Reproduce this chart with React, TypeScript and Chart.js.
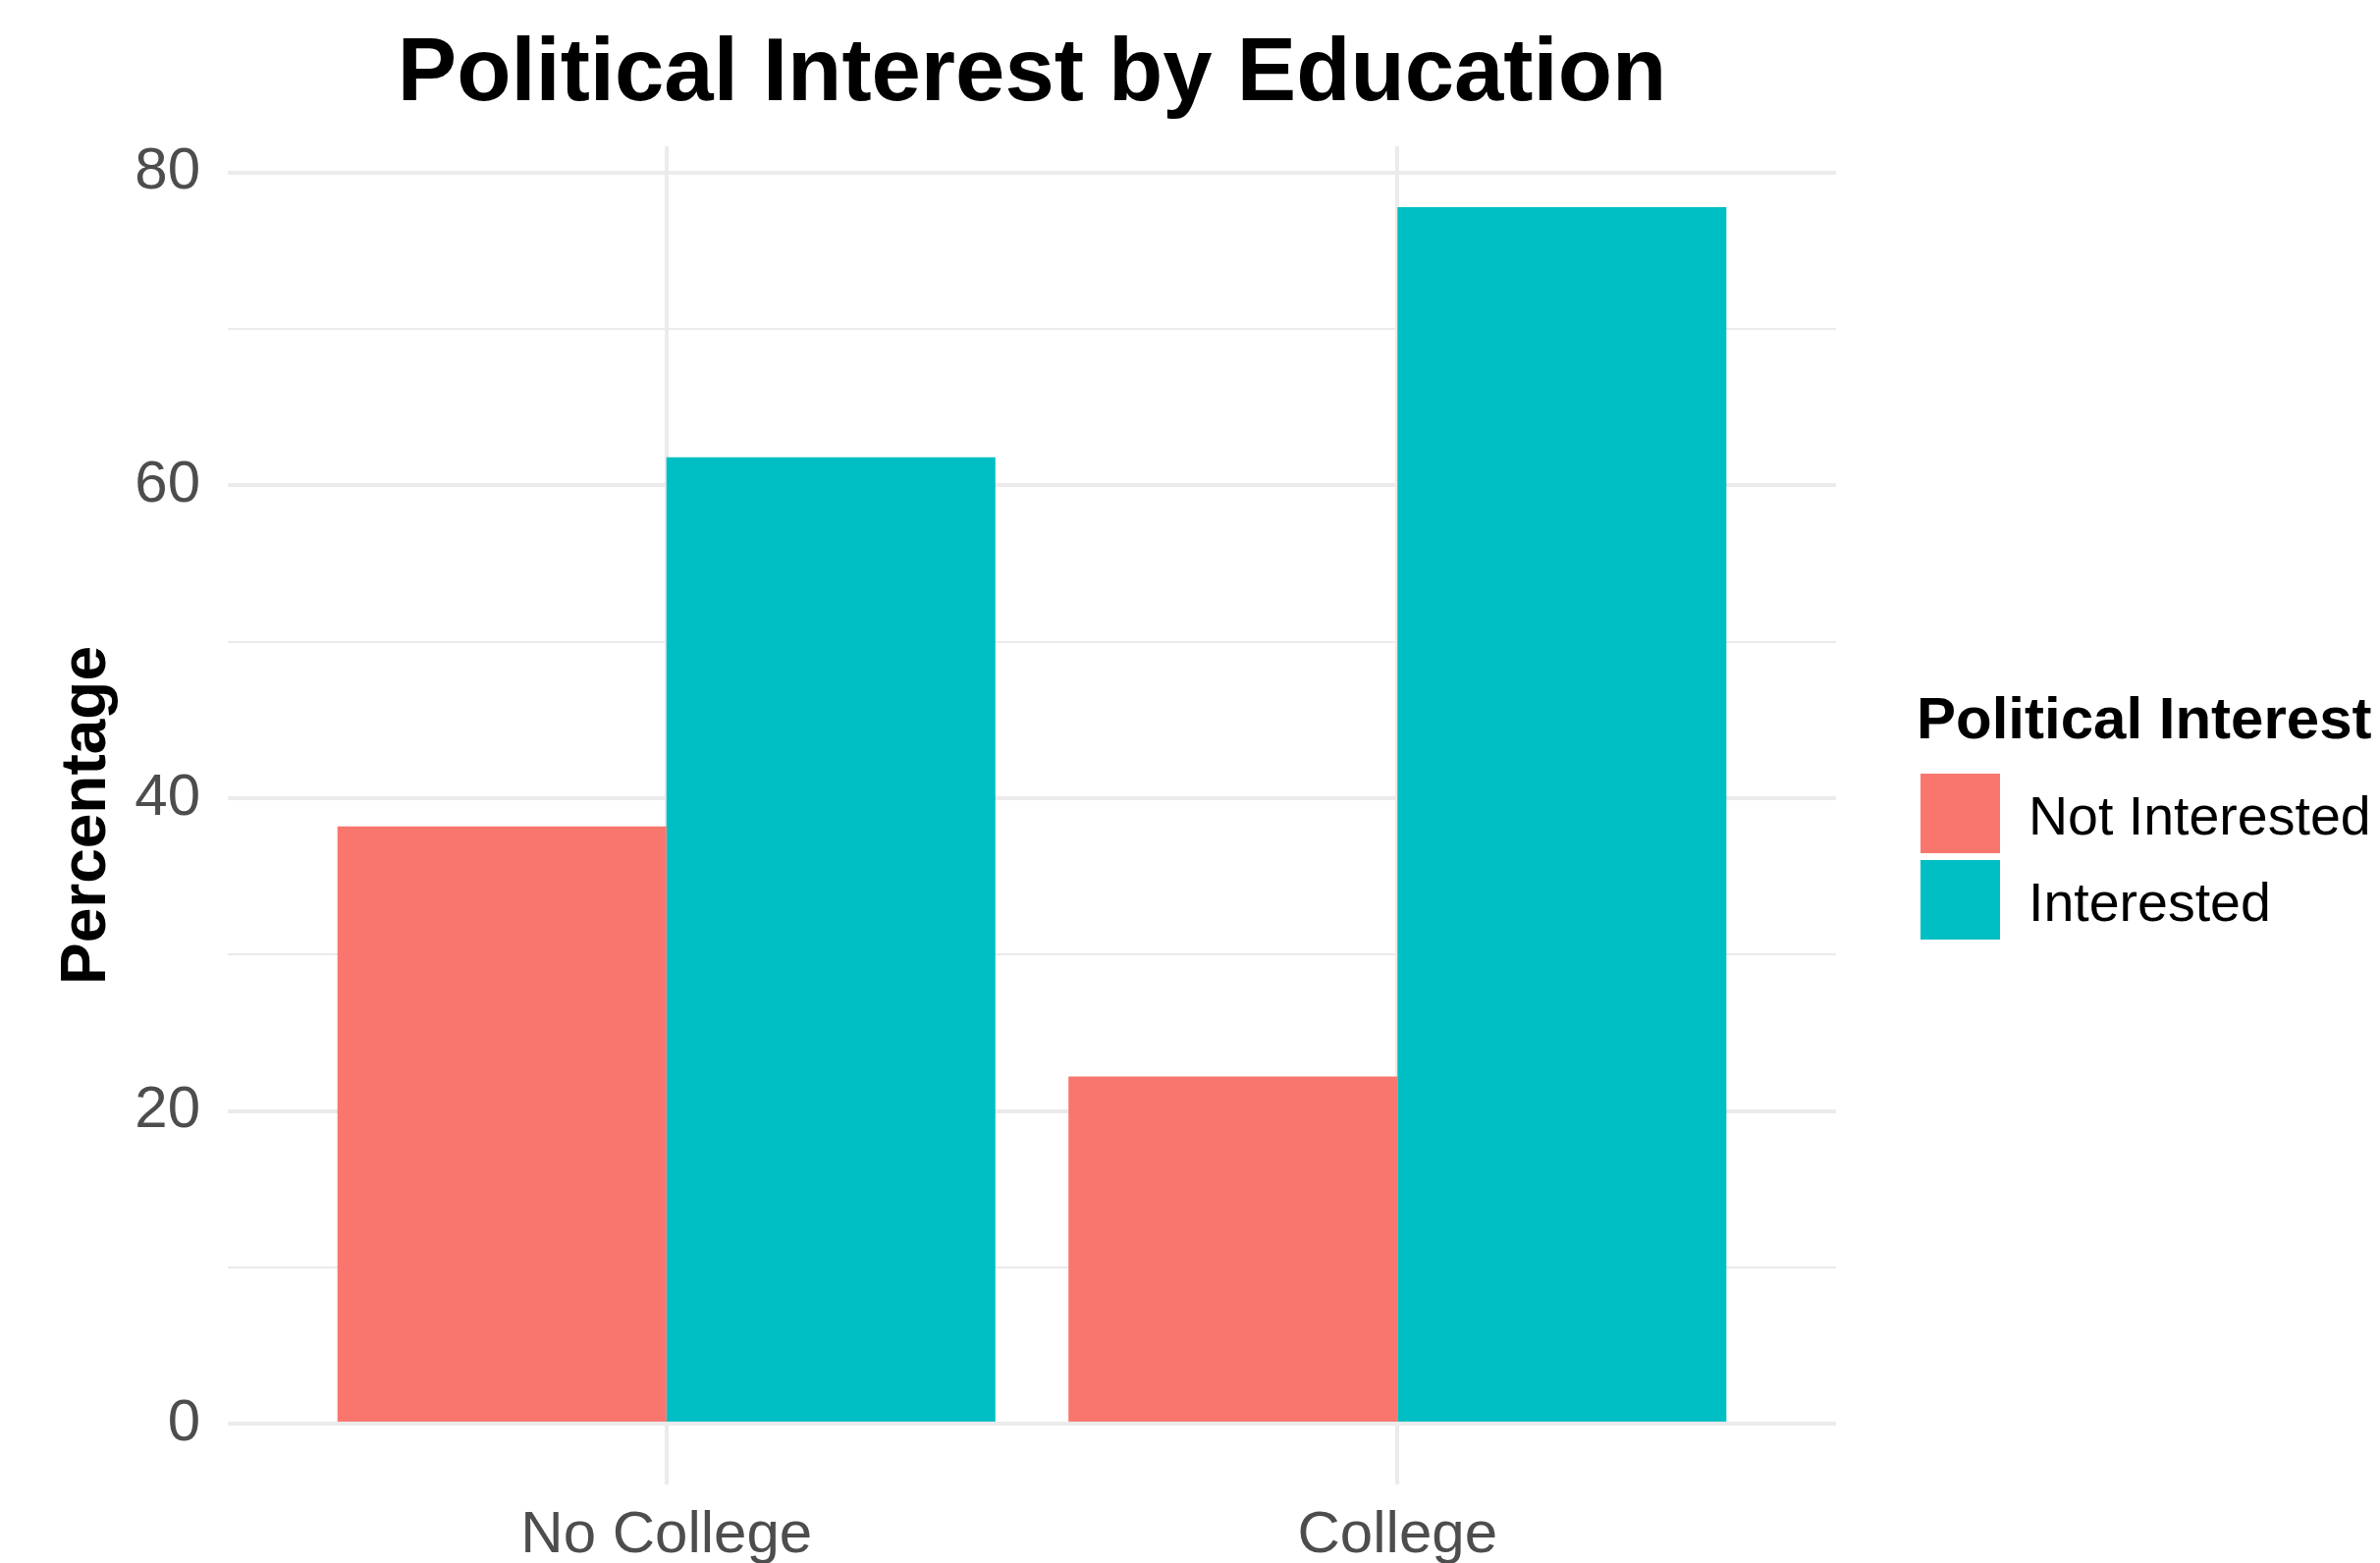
import React, { useEffect, useRef } from "react";
import { Chart, registerables } from "chart.js";

Chart.register(...registerables);

// ---- data ----
const categories = ["No College", "College"];
const seriesNames = ["Not Interested", "Interested"];
const notInterested = [38.2, 22.2];
const interested = [61.8, 77.8];
const seriesValues = [notInterested, interested];
const seriesColors = ["#F8766D", "#00BFC4"];
const yMajorTicks = [0, 20, 40, 60, 80];
const yMinorTicks = [10, 30, 50, 70];
const chartTitle = "Political Interest by Education";
const yAxisTitle = "Percentage";
const legendTitle = "Political Interest";

const FONT = "'Liberation Sans', Arial, Helvetica, sans-serif";
const W = 2424;
const H = 1592;

const overlayPlugin = {
  id: "overlay",
  afterDraw(chart: any) {
    const ctx = chart.ctx;
    const area = chart.chartArea;
    ctx.save();
    // main title
    ctx.fillStyle = "#000000";
    ctx.textAlign = "center";
    ctx.textBaseline = "alphabetic";
    ctx.font = `bold 90.5px ${FONT}`;
    ctx.fillText(chartTitle, (area.left + area.right) / 2, 102);

    // legend
    const lx = area.right + 86;
    ctx.textAlign = "left";
    ctx.font = `bold 60px ${FONT}`;
    ctx.fillText(legendTitle, lx - 4, 752);
    chart.data.datasets.forEach((ds: any, i: number) => {
      const top = 788 + i * 88;
      ctx.fillStyle = ds.backgroundColor;
      ctx.fillRect(lx, top, 81, 81);
      ctx.fillStyle = "#000000";
      ctx.font = `55.5px ${FONT}`;
      ctx.fillText(ds.label, lx + 110, top + 62);
    });
    ctx.restore();
  },
};

export default function App() {
  const ref = useRef<HTMLCanvasElement | null>(null);

  useEffect(() => {
    if (!ref.current) return;
    const chart = new Chart(ref.current, {
      type: "bar",
      data: {
        datasets: seriesNames.map((name, s) => ({
          label: name,
          data: categories.map((_, i) => ({ x: i + 1, y: seriesValues[s][i] })),
          backgroundColor: seriesColors[s],
          borderWidth: 0,
          categoryPercentage: 0.9,
          barPercentage: 1.0,
        })),
      },
      options: {
        responsive: false,
        animation: false,
        devicePixelRatio: 1,
        layout: { padding: { top: 149, right: 554, left: 0, bottom: 0 } },
        plugins: {
          legend: { display: false },
          title: { display: false },
          tooltip: { enabled: false },
        },
        scales: {
          x: {
            type: "linear",
            min: 0.4,
            max: 2.6,
            offset: false,
            afterBuildTicks: (scale: any) => {
              scale.ticks = categories.map((_, i) => ({ value: i + 1 }));
            },
            afterFit: (scale: any) => {
              scale.height = 80;
            },
            grid: { color: "#EBEBEB", lineWidth: 4, drawTicks: false, offset: false },
            border: { display: false },
            ticks: {
              padding: 16,
              color: "#4D4D4D",
              font: { family: FONT, size: 60 },
              autoSkip: false,
              maxRotation: 0,
              callback: (v: any) => categories[Math.round(Number(v)) - 1] ?? "",
            },
          },
          y: {
            type: "linear",
            min: -3.89,
            max: 81.69,
            afterBuildTicks: (scale: any) => {
              scale.ticks = [...yMajorTicks, ...yMinorTicks]
                .sort((a, b) => a - b)
                .map((v) => ({ value: v }));
            },
            afterFit: (scale: any) => {
              scale.width = 232;
            },
            grid: {
              color: "#EBEBEB",
              lineWidth: (ctx: any) =>
                ctx.tick && yMajorTicks.includes(ctx.tick.value) ? 4 : 2,
              drawTicks: false,
            },
            border: { display: false },
            ticks: {
              padding: 28,
              color: "#4D4D4D",
              font: { family: FONT, size: 60 },
              autoSkip: false,
              callback: (v: any) => (yMajorTicks.includes(Number(v)) ? String(v) : ""),
            },
            title: {
              display: true,
              text: yAxisTitle,
              color: "#000000",
              font: { family: FONT, size: 64, weight: "bold" },
              padding: { top: 51, bottom: 0 },
            },
          },
        },
      } as any,
      plugins: [overlayPlugin],
    });
    return () => chart.destroy();
  }, []);

  return (
    <div style={{ position: "absolute", left: 0, top: 0, width: W, height: H, background: "#ffffff" }}>
      <canvas ref={ref} width={W} height={H} style={{ display: "block" }} />
    </div>
  );
}
